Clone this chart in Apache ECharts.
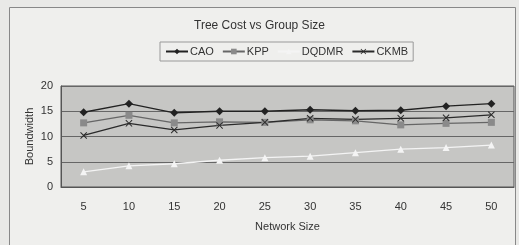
<!DOCTYPE html>
<html>
<head>
<meta charset="utf-8">
<script src="https://cdn.jsdelivr.net/npm/echarts@6/dist/echarts.min.js"></script>
<style>
html,body{margin:0;padding:0;background:#e9e9e7;}
#main{width:519px;height:245px;}
</style>
</head>
<body>
<div id="main"></div>
<script>
var chart = echarts.init(document.getElementById('main'));

// 横轴：网络规模
var networkSize = ['5', '10', '15', '20', '25', '30', '35', '40', '45', '50'];
// 各算法的带宽
var cao   = [14.8, 16.5, 14.7, 15, 15, 15.3, 15.1, 15.2, 16, 16.5];
var kpp   = [12.7, 14.2, 12.7, 12.9, 12.8, 13.3, 13.1, 12.3, 12.6, 12.8];
var dqdmr = [3, 4.2, 4.6, 5.3, 5.8, 6.1, 6.8, 7.5, 7.8, 8.3];
var ckmb  = [10.2, 12.6, 11.3, 12.2, 12.8, 13.6, 13.4, 13.6, 13.7, 14.3];

var xMark = 'path://M0,1L1,0L5,4L9,0L10,1L6,5L10,9L9,10L5,6L1,10L0,9L4,5Z';
var font = 'Liberation Sans';

function line(name, data, color, symbol, size, symColor) {
    return {
        name: name,
        type: 'line',
        data: data,
        symbol: symbol,
        symbolSize: size,
        showAllSymbol: true,
        lineStyle: {color: color, width: 1.3},
        itemStyle: {color: symColor || color},
        animation: false
    };
}

var option = {
    backgroundColor: '#e9e9e7',
    textStyle: {fontFamily: font},
    title: {
        text: 'Tree Cost vs Group Size',
        left: 'center',
        top: 15,
        textStyle: {color: '#333', fontSize: 12, fontWeight: 'normal', fontFamily: font}
    },
    graphic: [{
        type: 'rect',
        shape: {x: 9.5, y: 7.5, width: 506, height: 250},
        style: {fill: '#efefed', stroke: '#888', lineWidth: 1},
        z: -10
    }],
    legend: {
        top: 42,
        left: 160,
        itemWidth: 22,
        itemHeight: 7,
        itemGap: 8,
        padding: [4, 5, 4, 5],
        borderColor: '#999',
        borderWidth: 1,
        textStyle: {color: '#333', fontSize: 11, fontFamily: font, padding: [0, 0, 0, -3]},
        data: ['CAO', 'KPP', 'DQDMR', 'CKMB']
    },
    grid: {left: 61, right: 5, top: 86, bottom: 58, show: true,
        backgroundColor: '#c6c6c4', borderColor: '#555', borderWidth: 1},
    xAxis: {
        type: 'category',
        data: networkSize,
        name: 'Network Size',
        nameLocation: 'middle',
        nameGap: 34,
        nameTextStyle: {color: '#333', fontSize: 11},
        axisLine: {lineStyle: {color: '#555'}},
        axisTick: {inside: true, length: 3, lineStyle: {color: '#555'}},
        axisLabel: {color: '#333', fontSize: 11, margin: 14}
    },
    yAxis: {
        type: 'value',
        min: 0,
        max: 20,
        interval: 5,
        name: 'Boundwidth',
        nameLocation: 'middle',
        nameGap: 26,
        nameMoveOverlap: false,
        nameTextStyle: {color: '#333', fontSize: 11},
        axisLine: {show: true, lineStyle: {color: '#555'}},
        axisTick: {show: false},
        axisLabel: {color: '#333', fontSize: 11, margin: 8},
        splitLine: {lineStyle: {color: '#666', width: 1}}
    },
    series: [
        line('CAO', cao, '#222', 'diamond', 8),
        line('KPP', kpp, '#666', 'rect', 7, '#8a8a8a'),
        line('DQDMR', dqdmr, '#f4f4f4', 'triangle', 7),
        line('CKMB', ckmb, '#2a2a2a', xMark, 7)
    ]
};
chart.setOption(option);
</script>
</body>
</html>
